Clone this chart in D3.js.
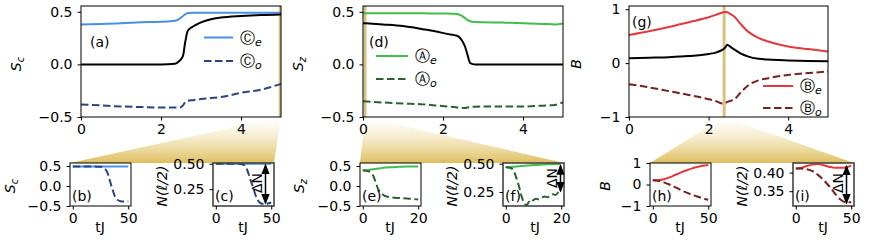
<!DOCTYPE html>
<html>
<head>
<meta charset="utf-8">
<script src="https://d3js.org/d3.v7.min.js"></script>
<style>
  body { margin: 0; background: #fff; }
  svg { display: block; font-family: "DejaVu Sans", sans-serif; }
  .tick text { font-family: "DejaVu Sans", sans-serif; font-size: 14px; fill: #000; }
  .tick line { stroke: #000; stroke-width: 1; }
</style>
</head>
<body>
<svg id="fig" width="872" height="245"></svg>
<script>
// ---- main panels, V/J on x ----
var aX     = [0, 0.5, 1, 1.5, 2, 2.35, 2.45, 2.55, 2.6, 2.67, 2.8, 3, 3.25, 3.5, 4, 4.5, 5];
var aCe    = [0.38, 0.385, 0.39, 0.40, 0.405, 0.415, 0.43, 0.46, 0.475, 0.488, 0.49, 0.49, 0.49, 0.49, 0.49, 0.49, 0.49];
var aBlack = [0, 0, 0, 0, 0, 0.005, 0.03, 0.08, 0.2, 0.32, 0.36, 0.40, 0.43, 0.445, 0.46, 0.47, 0.475];
var aCo    = [-0.38, -0.39, -0.40, -0.405, -0.41, -0.41, -0.412, -0.39, -0.36, -0.345, -0.34, -0.33, -0.32, -0.31, -0.27, -0.24, -0.185];

var dX     = [0, 0.5, 1, 1.5, 1.8, 2.1, 2.35, 2.45, 2.55, 2.6, 2.68, 2.8, 3, 3.5, 4, 4.5, 4.8, 5];
var dAe    = [0.487, 0.487, 0.486, 0.485, 0.484, 0.483, 0.478, 0.465, 0.44, 0.425, 0.41, 0.402, 0.40, 0.397, 0.392, 0.385, 0.38, 0.39];
var dBlack = [0.392, 0.38, 0.365, 0.335, 0.315, 0.29, 0.272, 0.24, 0.17, 0.108, 0.013, 0, 0, 0, 0, 0, 0, 0];
var dAo    = [-0.351, -0.362, -0.372, -0.38, -0.39, -0.40, -0.41, -0.415, -0.415, -0.41, -0.405, -0.402, -0.40, -0.40, -0.40, -0.392, -0.385, -0.36];

var gX     = [0, 0.5, 1, 1.5, 2, 2.2, 2.35, 2.42, 2.47, 2.55, 2.65, 2.8, 3, 3.25, 3.5, 4, 4.5, 5];
var gBe    = [0.52, 0.59, 0.67, 0.76, 0.85, 0.9, 0.94, 0.95, 0.945, 0.91, 0.86, 0.73, 0.58, 0.47, 0.40, 0.31, 0.26, 0.215];
var gBlack = [0.09, 0.1, 0.11, 0.13, 0.17, 0.2, 0.25, 0.29, 0.34, 0.3, 0.25, 0.18, 0.12, 0.08, 0.065, 0.05, 0.04, 0.035];
var gBo    = [-0.39, -0.45, -0.52, -0.59, -0.67, -0.71, -0.75, -0.74, -0.72, -0.7, -0.67, -0.55, -0.41, -0.32, -0.28, -0.22, -0.185, -0.155];

// ---- insets, tJ on x ----
var bT  = [0, 10, 20, 25, 28, 30, 32, 34, 36, 38, 40, 43, 46, 50];
var bCe = [0.49, 0.49, 0.49, 0.49, 0.49, 0.49, 0.49, 0.49, 0.49, 0.49, 0.49, 0.49, 0.49, 0.49];
var bCo = [0.49, 0.49, 0.485, 0.48, 0.45, 0.40, 0.28, 0.08, -0.1, -0.26, -0.34, -0.38, -0.39, -0.39];

var cT  = [0, 10, 20, 25, 27, 29, 31, 33, 35, 37, 39, 41, 44, 47, 50];
var cCe = [0.5, 0.5, 0.5, 0.5, 0.5, 0.5, 0.5, 0.5, 0.5, 0.5, 0.5, 0.5, 0.5, 0.5, 0.5];
var cCo = [0.5, 0.5, 0.5, 0.49, 0.47, 0.42, 0.35, 0.29, 0.22, 0.16, 0.125, 0.11, 0.105, 0.11, 0.12];

var eT  = [0, 1, 2, 3, 4, 4.5, 5, 5.5, 6, 7, 8, 10, 13, 16, 20];
var eAe = [0.39, 0.395, 0.40, 0.41, 0.42, 0.425, 0.43, 0.435, 0.44, 0.45, 0.46, 0.47, 0.48, 0.49, 0.49];
var eAo = [0.39, 0.385, 0.37, 0.32, 0.22, 0.12, 0.02, -0.07, -0.13, -0.2, -0.25, -0.28, -0.30, -0.31, -0.34];

var fT  = [0, 1, 2, 3, 4, 5, 5.5, 6, 6.5, 7, 7.5, 8, 8.5, 9, 10, 11, 12, 13, 14, 15, 16, 17, 18, 19, 20];
var fAe = [0.47, 0.47, 0.472, 0.474, 0.476, 0.478, 0.479, 0.48, 0.481, 0.482, 0.483, 0.484, 0.485, 0.486, 0.488, 0.489, 0.49, 0.492, 0.493, 0.494, 0.495, 0.496, 0.497, 0.498, 0.5];
var fAo = [0.47, 0.465, 0.46, 0.43, 0.36, 0.28, 0.23, 0.19, 0.16, 0.14, 0.135, 0.15, 0.165, 0.155, 0.18, 0.19, 0.185, 0.2, 0.21, 0.205, 0.22, 0.23, 0.225, 0.25, 0.27];

var hT  = [0, 5, 10, 15, 20, 25, 30, 35, 40, 45, 50];
var hBe = [0.2, 0.2, 0.24, 0.33, 0.44, 0.55, 0.65, 0.74, 0.81, 0.87, 0.91];
var hBo = [0.2, 0.17, 0.1, 0.0, -0.12, -0.25, -0.37, -0.47, -0.56, -0.64, -0.71];

var iT  = [0, 5, 10, 15, 20, 25, 30, 35, 40, 45, 50];
var iBe = [0.411, 0.413, 0.418, 0.422, 0.423, 0.42, 0.416, 0.413, 0.413, 0.414, 0.419];
var iBo = [0.411, 0.411, 0.409, 0.404, 0.394, 0.38, 0.364, 0.345, 0.328, 0.32, 0.32];

// tick values
var vTicks = [0, 2, 4];
var sTicks = [-0.5, 0, 0.5];
var bTicks = [-1, 0, 1];

// colours
var cBlue = "#4a8fe6", cNavy = "#29447f";
var cGreen = "#3fbe4b", cDkGreen = "#2a6130";
var cRed = "#e3383c", cMaroon = "#76201f";
var cGold = "#d9c07c";

var svg = d3.select("#fig");
var defs = svg.append("defs");

var grad = defs.append("linearGradient").attr("id", "fan")
    .attr("x1", 0).attr("y1", 0).attr("x2", 0).attr("y2", 1);
grad.append("stop").attr("offset", "0%").attr("stop-color", "#f3e3b0").attr("stop-opacity", 0);
grad.append("stop").attr("offset", "100%").attr("stop-color", "#dcbb55").attr("stop-opacity", 0.95);

defs.append("marker").attr("id", "ah")
    .attr("viewBox", "0 0 10 10").attr("refX", 9).attr("refY", 5)
    .attr("markerWidth", 7).attr("markerHeight", 7)
    .attr("orient", "auto-start-reverse")
    .append("path").attr("d", "M0,1 L10,5 L0,9 z").attr("fill", "#000");

var layerFan = svg.append("g");
var layer = svg.append("g");

function makePanel(p) {
    var x = d3.scaleLinear().domain(p.xd).range([p.left, p.right]);
    var y = d3.scaleLinear().domain(p.yd).range([p.bottom, p.top]);
    var g = layer.append("g");

    var clipId = "clip" + p.id;
    defs.append("clipPath").attr("id", clipId).append("rect")
        .attr("x", p.left).attr("y", p.top)
        .attr("width", p.right - p.left).attr("height", p.bottom - p.top);

    var plot = g.append("g").attr("clip-path", "url(#" + clipId + ")");

    if (p.vline != null) {
        plot.append("line")
            .attr("x1", x(p.vline)).attr("x2", x(p.vline))
            .attr("y1", p.top).attr("y2", p.bottom)
            .attr("stroke", cGold).attr("stroke-width", 3);
    }

    var line = d3.line().curve(d3.curveMonotoneX)
        .x(function(d) { return x(d[0]); })
        .y(function(d) { return y(d[1]); });

    p.series.forEach(function(s) {
        plot.append("path")
            .datum(d3.zip(s.x, s.y))
            .attr("d", line)
            .attr("fill", "none")
            .attr("stroke", s.color)
            .attr("stroke-width", 2)
            .attr("stroke-dasharray", s.dash ? "7.5,3.5" : null);
    });

    g.append("rect")
        .attr("x", p.left).attr("y", p.top)
        .attr("width", p.right - p.left).attr("height", p.bottom - p.top)
        .attr("fill", "none")
        .attr("stroke", p.frame || "#000")
        .attr("stroke-width", p.frameW || 1);

    var xAxis = g.append("g")
        .attr("transform", "translate(0," + p.bottom + ")")
        .call(d3.axisBottom(x).tickValues(p.xt).tickSize(3.5).tickPadding(3.5).tickFormat(d3.format("d")));
    var yAxis = g.append("g")
        .attr("transform", "translate(" + p.left + ",0)")
        .call(d3.axisLeft(y).tickValues(p.yt).tickSize(3.5).tickPadding(5).tickFormat(d3.format(p.yf)));
    xAxis.select(".domain").remove();
    yAxis.select(".domain").remove();

    return { x: x, y: y, g: g };
}

function label(g, txt, x, y, opt) {
    opt = opt || {};
    var t = g.append("text").attr("x", x).attr("y", y)
        .attr("font-size", opt.size || 14)
        .attr("text-anchor", opt.anchor || "start");
    if (opt.rotate) t.attr("transform", "rotate(-90," + x + "," + y + ")");
    return t;
}

function italicSub(g, main, sub, x, y, rotate) {
    var t = label(g, "", x, y, { anchor: "middle", rotate: rotate });
    t.append("tspan").attr("font-style", "italic").text(main);
    t.append("tspan").attr("font-style", "italic").attr("font-size", 10).attr("dy", 3).text(sub);
    return t;
}

function legend(g, x0, x1, y, color, dash, letter, sub) {
    g.append("line").attr("x1", x0).attr("x2", x1).attr("y1", y).attr("y2", y)
        .attr("stroke", color).attr("stroke-width", 2)
        .attr("stroke-dasharray", dash ? "7.5,3.5" : null);
    var t = g.append("text").attr("x", x1 + 7).attr("y", y + 5).attr("font-size", 15);
    t.append("tspan").text(letter);
    t.append("tspan").attr("font-style", "italic").attr("font-size", 11).attr("dy", 3).text(sub);
}

function fan(apexX, apexY, l, r, top) {
    layerFan.append("path")
        .attr("d", "M" + apexX + "," + apexY + "L" + r + "," + top + "L" + l + "," + top + "Z")
        .attr("fill", "url(#fan)");
}

function arrow(g, x, y0, y1) {
    g.append("line").attr("x1", x).attr("x2", x).attr("y1", y0).attr("y2", y1)
        .attr("stroke", "#000").attr("stroke-width", 1.5)
        .attr("marker-start", "url(#ah)").attr("marker-end", "url(#ah)");
}

// ---------- main panels ----------
var pa = makePanel({ id: "a", left: 81, right: 281, top: 6, bottom: 117, xd: [0, 5], yd: [-0.5, 0.555],
    xt: vTicks, yt: sTicks, yf: ".1f", vline: 4.98,
    series: [{ x: aX, y: aCe, color: cBlue }, { x: aX, y: aBlack, color: "#000" }, { x: aX, y: aCo, color: cNavy, dash: true }] });
var pd = makePanel({ id: "d", left: 363, right: 563, top: 6, bottom: 117, xd: [0, 5], yd: [-0.5, 0.555],
    xt: vTicks, yt: sTicks, yf: ".1f", vline: 0.05,
    series: [{ x: dX, y: dAe, color: cGreen }, { x: dX, y: dBlack, color: "#000" }, { x: dX, y: dAo, color: cDkGreen, dash: true }] });
var pg = makePanel({ id: "g", left: 629, right: 828, top: 6, bottom: 117, xd: [0, 5], yd: [-1, 1.06],
    xt: vTicks, yt: bTicks, yf: "d", vline: 2.39,
    series: [{ x: gX, y: gBe, color: cRed }, { x: gX, y: gBlack, color: "#000" }, { x: gX, y: gBo, color: cMaroon, dash: true }] });

// ---------- insets ----------
var insTop = 163, insBot = 206;
var pb = makePanel({ id: "b", left: 70, right: 131, top: insTop, bottom: insBot, xd: [-2.5, 52.5], yd: [-0.5, 0.575],
    xt: [0, 50], yt: sTicks, yf: ".1f",
    series: [{ x: bT, y: bCe, color: cBlue }, { x: bT, y: bCo, color: cNavy, dash: true }] });
var pc = makePanel({ id: "c", left: 213, right: 274, top: insTop, bottom: insBot, xd: [-2.5, 52.5], yd: [0.085, 0.507],
    xt: [0, 50], yt: [0.25, 0.5], yf: ".2f", frame: "#444", frameW: 1.6,
    series: [{ x: cT, y: cCe, color: cBlue }, { x: cT, y: cCo, color: cNavy, dash: true }] });
var pe = makePanel({ id: "e", left: 360, right: 421, top: insTop, bottom: insBot, xd: [-1, 21], yd: [-0.5, 0.575],
    xt: [0, 20], yt: sTicks, yf: ".1f",
    series: [{ x: eT, y: eAe, color: cGreen }, { x: eT, y: eAo, color: cDkGreen, dash: true }] });
var pf = makePanel({ id: "f", left: 503, right: 564, top: insTop, bottom: insBot, xd: [-1, 21], yd: [0.127, 0.506],
    xt: [0, 20], yt: [0.25, 0.5], yf: ".2f", frame: "#444", frameW: 1.6,
    series: [{ x: fT, y: fAe, color: cGreen }, { x: fT, y: fAo, color: cDkGreen, dash: true }] });
var ph = makePanel({ id: "h", left: 650, right: 711, top: insTop, bottom: insBot, xd: [-2.5, 52.5], yd: [-1, 1.0],
    xt: [0, 50], yt: bTicks, yf: "d",
    series: [{ x: hT, y: hBe, color: cRed }, { x: hT, y: hBo, color: cMaroon, dash: true }] });
var pi = makePanel({ id: "i", left: 793, right: 854, top: insTop, bottom: insBot, xd: [-2.5, 52.5], yd: [0.31, 0.426],
    xt: [0, 50], yt: [0.35, 0.40], yf: ".2f", frame: "#444", frameW: 1.6,
    series: [{ x: iT, y: iBe, color: cRed }, { x: iT, y: iBo, color: cMaroon, dash: true }] });

// ---------- fans ----------
fan(pa.x(5), 117, 70, 274, insTop);
fan(pd.x(0.05), 117, 360, 564, insTop);
fan(pg.x(2.39), 117, 650, 854, insTop);

// ---------- labels ----------
var L = layer;
italicSub(L, "S", "c", 21, 64, true);
italicSub(L, "S", "z", 303, 64, true);
label(L, "", 581, 64, { anchor: "middle", rotate: true }).attr("font-style", "italic").text("B");

label(L, "V/J", 193, 141, { anchor: "middle" });
label(L, "V/J", 480, 141, { anchor: "middle" });
label(L, "V/J", 746, 141, { anchor: "middle" });

label(L, "(a)", 90, 47).text("(a)");
label(L, "(d)", 369, 47).text("(d)");
label(L, "(g)", 632, 27).text("(g)");

legend(L, 204, 233, 37.5, cBlue, false, "\u24B8", "e");
legend(L, 204, 233, 61, cNavy, true, "\u24B8", "o");
legend(L, 376, 408, 56, cGreen, false, "\u24B6", "e");
legend(L, 376, 408, 79, cDkGreen, true, "\u24B6", "o");
legend(L, 763, 793, 86, cRed, false, "\u24B7", "e");
legend(L, 763, 793, 108, cMaroon, true, "\u24B7", "o");

// inset labels
italicSub(L, "S", "c", 15, 186, true);
italicSub(L, "S", "z", 304, 186, true);
label(L, "", 610, 186, { anchor: "middle", rotate: true }).attr("font-style", "italic").text("B");
[167, 457, 747].forEach(function(xx) {
    label(L, "", xx, 186, { anchor: "middle", rotate: true }).attr("font-style", "italic").text("N(\u2113/2)");
});

[[100, "tJ"], [243, "tJ"], [390, "tJ"], [535, "tJ"], [680, "tJ"], [823, "tJ"]].forEach(function(d) {
    label(L, d[1], d[0], 232, { anchor: "middle" }).text(d[1]);
});

[[72, "(b)"], [215, "(c)"], [362, "(e)"], [505, "(f)"], [652, "(h)"], [795, "(i)"]].forEach(function(d) {
    label(L, d[1], d[0], 201).text(d[1]);
});

// delta N arrows
arrow(L, 265.5, pc.y(0.49), pc.y(0.11));
label(L, "", 262, 183, { anchor: "middle", rotate: true }).text("\u0394N");
arrow(L, 560.5, pf.y(0.485), pf.y(0.255));
label(L, "", 557, 178, { anchor: "middle", rotate: true }).text("\u0394N");
arrow(L, 846.5, pi.y(0.418), pi.y(0.317));
label(L, "", 843, 183, { anchor: "middle", rotate: true }).text("\u0394N");
</script>
</body>
</html>
